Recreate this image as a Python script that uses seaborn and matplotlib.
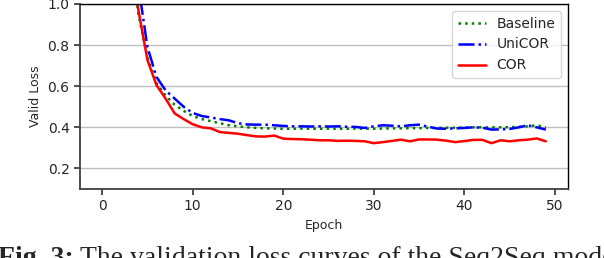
import numpy as np
import pandas as pd
import matplotlib
matplotlib.use("Agg")
import matplotlib.pyplot as plt
import seaborn as sns

epochs = list(range(50))

baseline = [3.0, 2.3, 1.75, 1.3, 0.95, 0.74, 0.615, 0.555, 0.51, 0.48,
            0.455, 0.44, 0.43, 0.42, 0.41, 0.405, 0.40, 0.397, 0.395, 0.394,
            0.393, 0.393, 0.394, 0.393, 0.393, 0.394, 0.393, 0.393, 0.394, 0.393,
            0.393, 0.394, 0.395, 0.395, 0.396, 0.396, 0.397, 0.397, 0.398, 0.398,
            0.399, 0.400, 0.400, 0.400, 0.400, 0.401, 0.402, 0.405, 0.410, 0.400]

unicor = [3.2, 2.5, 1.9, 1.45, 1.09, 0.79, 0.645, 0.58, 0.54, 0.50,
          0.47, 0.455, 0.448, 0.44, 0.434, 0.42, 0.414, 0.413, 0.413, 0.41,
          0.407, 0.405, 0.405, 0.404, 0.405, 0.404, 0.405, 0.403, 0.402, 0.397,
          0.405, 0.41, 0.408, 0.405, 0.41, 0.413, 0.403, 0.394, 0.393, 0.395,
          0.397, 0.40, 0.398, 0.389, 0.39, 0.392, 0.40, 0.41, 0.40, 0.389]

cor = [3.0, 2.3, 1.75, 1.3, 0.97, 0.727, 0.605, 0.54, 0.468, 0.44,
       0.415, 0.40, 0.395, 0.377, 0.373, 0.369, 0.362, 0.356, 0.355, 0.36,
       0.345, 0.343, 0.342, 0.340, 0.337, 0.337, 0.334, 0.335, 0.334, 0.332,
       0.323, 0.328, 0.334, 0.340, 0.332, 0.341, 0.341, 0.340, 0.335, 0.328,
       0.333, 0.339, 0.339, 0.323, 0.337, 0.332, 0.337, 0.340, 0.346, 0.332]

series = [("Baseline", baseline, "green", ":"),
          ("UniCOR", unicor, "blue", "-."),
          ("COR", cor, "red", "-")]

sns.set_style("ticks", {"axes.grid": True, "grid.color": ".75"})
plt.rcParams['font.family'] = ['DejaVu Sans']

fig = plt.figure(figsize=(6.04, 2.58), dpi=100)
ax = fig.add_axes([80 / 604, 1 - 189 / 258, 488 / 604, 185 / 258])

for name, vals, col, ls in series:
    df = pd.DataFrame({"Epoch": epochs, "Valid Loss": vals})
    sns.lineplot(data=df, x="Epoch", y="Valid Loss", ax=ax, color=col,
                 linestyle=ls, linewidth=1.8, label=name)

ax.set_ylim(0.1, 1.0)
ax.set_yticks([0.2, 0.4, 0.6, 0.8, 1.0])
ax.set_xticks([0, 10, 20, 30, 40, 50])
ax.xaxis.grid(False)
ax.yaxis.grid(True, color="0.75", linewidth=1)
ax.tick_params(axis="both", labelsize=10, length=4, width=1.2, color="0.2")
ax.set_xlabel("Epoch", fontsize=9)
ax.set_ylabel("Valid Loss", fontsize=9)
for side in ["left", "bottom"]:
    ax.spines[side].set_color("0.25")
    ax.spines[side].set_linewidth(1.3)
for side in ["top", "right"]:
    ax.spines[side].set_color("black")
    ax.spines[side].set_linewidth(1.0)

leg = ax.legend(loc="upper right", fontsize=10, frameon=True)
leg.get_frame().set_edgecolor("0.8")

# caption, cut off by the bottom of the image like the reference
fig.canvas.draw()
r = fig.canvas.get_renderer()
t1 = fig.text(-0.003, -0.026, "Fig. 3:", fontsize=20, fontweight="bold",
              family="Liberation Serif", va="baseline", ha="left")
bb = t1.get_window_extent(r)
x2 = (bb.x1 + 6) / fig.bbox.width
fig.text(x2, -0.026, "The validation loss curves of the Seq2Seq model",
         fontsize=20, family="Liberation Serif", va="baseline", ha="left")

fig.savefig("out.png", dpi=100)
